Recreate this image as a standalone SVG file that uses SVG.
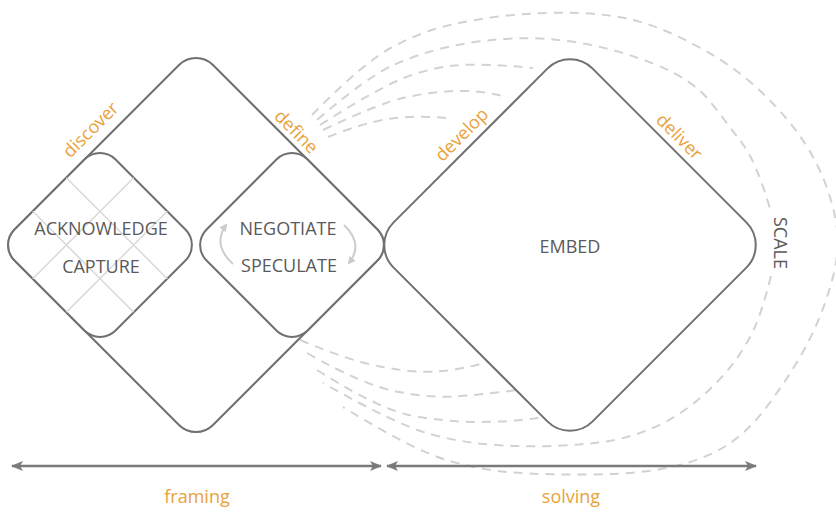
<svg xmlns="http://www.w3.org/2000/svg" width="836" height="524" viewBox="0 0 836 524">
  <defs>
    <marker id="spanHead" viewBox="0 0 12 10" refX="11" refY="5" markerWidth="12" markerHeight="10" markerUnits="userSpaceOnUse" orient="auto-start-reverse">
      <path d="M0,0 L12,5 L0,10 L3,5 Z" fill="#7a7a7a"/>
    </marker>
    <marker id="cycleHead" viewBox="0 0 8 8" refX="6" refY="4" markerWidth="8" markerHeight="8" markerUnits="userSpaceOnUse" orient="auto">
      <path d="M0,0 L8,4 L0,8 Z" fill="#cccccc"/>
    </marker>
  </defs>
  <style>
    .shape{fill:#fff;stroke:#707070;stroke-width:2}
    .grid{stroke:#d9d9d9;stroke-width:1.5;fill:none}
    .loop{fill:none;stroke:#d2d2d2;stroke-width:2;stroke-dasharray:9 7}
    .label{font-family:"Open Sans","Liberation Sans",sans-serif;font-size:18px;fill:#5a5a5a;text-anchor:middle}
    .phase{font-family:"Open Sans","Liberation Sans",sans-serif;font-size:18px;fill:#e9a23b;text-anchor:middle}
    .span{stroke:#7a7a7a;stroke-width:2.5;fill:none}
    .cycle{stroke:#cccccc;stroke-width:2;fill:none}
  </style>
  <rect width="836" height="524" fill="#fff"/>

  <!-- scale loops around the solving diamond -->
  <g id="connectors">
    <g id="scale-loops">
      <path class="loop" d="M312 115 Q363 63 391.5 47.5 Q420 32 450 25 Q480 18 513.5 15 Q547 12 578.5 13 Q610 14 637 21 Q664 28 700.5 48 Q737 68 763.5 94 Q790 120 805 143.5 Q820 167 828 191 Q836 215 837 230 Q838 245 836.5 259 Q835 273 826 300 Q817 327 802 353.5 Q787 380 767 406.5 Q747 433 725 446.5 Q703 460 671.5 467 Q640 474 593.5 474.5 Q547 475 513.5 472.5 Q480 470 446.5 460 Q413 450 343 407"/>
      <path class="loop" d="M317 120 Q367 77 393.5 65 Q420 53 450 46.5 Q480 40 513.5 38.5 Q547 37 583.5 43.5 Q620 50 656.5 65 Q693 80 710 101.5 Q727 123 742 143 Q757 163 771 212"/>
      <path class="loop" d="M771 276 Q762 312 753.5 330 Q745 348 733.5 363 Q722 378 707.5 391.5 Q693 405 676.5 415.5 Q660 426 640 433 Q620 440 598.5 442.5 Q577 445 553.5 446 Q530 447 496.5 445 Q463 443 430 434 Q397 425 323 383"/>
      <path class="loop" d="M320 125 Q380 87 405 77.5 Q430 68 455 65.5 Q480 63 533 68"/>
      <path class="loop" d="M317 370 Q380 410 413.5 416 Q447 422 480 422 Q513 422 543 417"/>
      <path class="loop" d="M323 130 Q380 103 405 97.5 Q430 92 455 91 Q480 90 507 97"/>
      <path class="loop" d="M307 353 Q363 385 396.5 391.5 Q430 398 455 396.5 Q480 395 517 390"/>
      <path class="loop" d="M328 137 Q363 123 388 119 Q413 115 447 118"/>
      <path class="loop" d="M300 340 Q347 360 380 366.5 Q413 373 436.5 371.5 Q460 370 487 362"/>
    </g>
    <g id="spans">
      <line class="span" x1="12" y1="466" x2="381" y2="466" marker-start="url(#spanHead)" marker-end="url(#spanHead)"/>
      <line class="span" x1="387" y1="466" x2="756" y2="466" marker-start="url(#spanHead)" marker-end="url(#spanHead)"/>
    </g>
  </g>

  <!-- framing diamond -->
  <g id="framing">
    <path class="shape" d="M179 65 A24 24 0 0 1 213 65 L377.44 229.44 A22 22 0 0 1 377.44 260.56 L213 425 A24 24 0 0 1 179 425 L14.56 260.56 A22 22 0 0 1 14.56 229.44 Z"/>
    <text class="phase" x="95" y="134" transform="rotate(-45 95 134)">discover</text>
    <text class="phase" x="292" y="136" transform="rotate(45 292 136)">define</text>
  </g>

  <g id="acknowledge-capture">
    <path class="shape" d="M84.44 159.56 A22 22 0 0 1 115.56 159.56 L185.44 229.44 A22 22 0 0 1 185.44 260.56 L115.56 330.44 A22 22 0 0 1 84.44 330.44 L14.56 260.56 A22 22 0 0 1 14.56 229.44 Z"/>
    <path class="grid" d="M32.7 278.7 L133.7 177.7 M66.3 312.3 L167.3 211.3 M32.7 211.3 L133.7 312.3 M66.3 177.7 L167.3 278.7"/>
    <text class="label" x="101" y="235">ACKNOWLEDGE</text>
    <text class="label" x="101" y="273">CAPTURE</text>
  </g>

  <g id="negotiate-speculate">
    <path class="shape" d="M276.44 159.56 A22 22 0 0 1 307.56 159.56 L377.44 229.44 A22 22 0 0 1 377.44 260.56 L307.56 330.44 A22 22 0 0 1 276.44 330.44 L206.56 260.56 A22 22 0 0 1 206.56 229.44 Z"/>
    <path class="cycle" d="M233 264 Q212 245 226 225" marker-end="url(#cycleHead)"/>
    <path class="cycle" d="M344 225 Q364 244 349 263" marker-end="url(#cycleHead)"/>
    <text class="label" x="288" y="235">NEGOTIATE</text>
    <text class="label" x="289" y="272">SPECULATE</text>
  </g>

  <!-- solving diamond -->
  <g id="embed">
    <path class="shape" d="M547.37 68.63 A32 32 0 0 1 592.63 68.63 L746.37 222.37 A32 32 0 0 1 746.37 267.63 L592.63 421.37 A32 32 0 0 1 547.37 421.37 L393.63 267.63 A32 32 0 0 1 393.63 222.37 Z"/>
    <text class="label" x="570" y="253">EMBED</text>
    <text class="phase" x="466" y="139" transform="rotate(-45 466 139)">develop</text>
    <text class="phase" x="675" y="141" transform="rotate(45 675 141)">deliver</text>
  </g>

  <g id="scale">
    <text class="label" x="774" y="243" transform="rotate(90 774 243)">SCALE</text>
  </g>

  <g id="phases">
    <text class="phase" x="197" y="503">framing</text>
    <text class="phase" x="571" y="503">solving</text>
  </g>
</svg>
